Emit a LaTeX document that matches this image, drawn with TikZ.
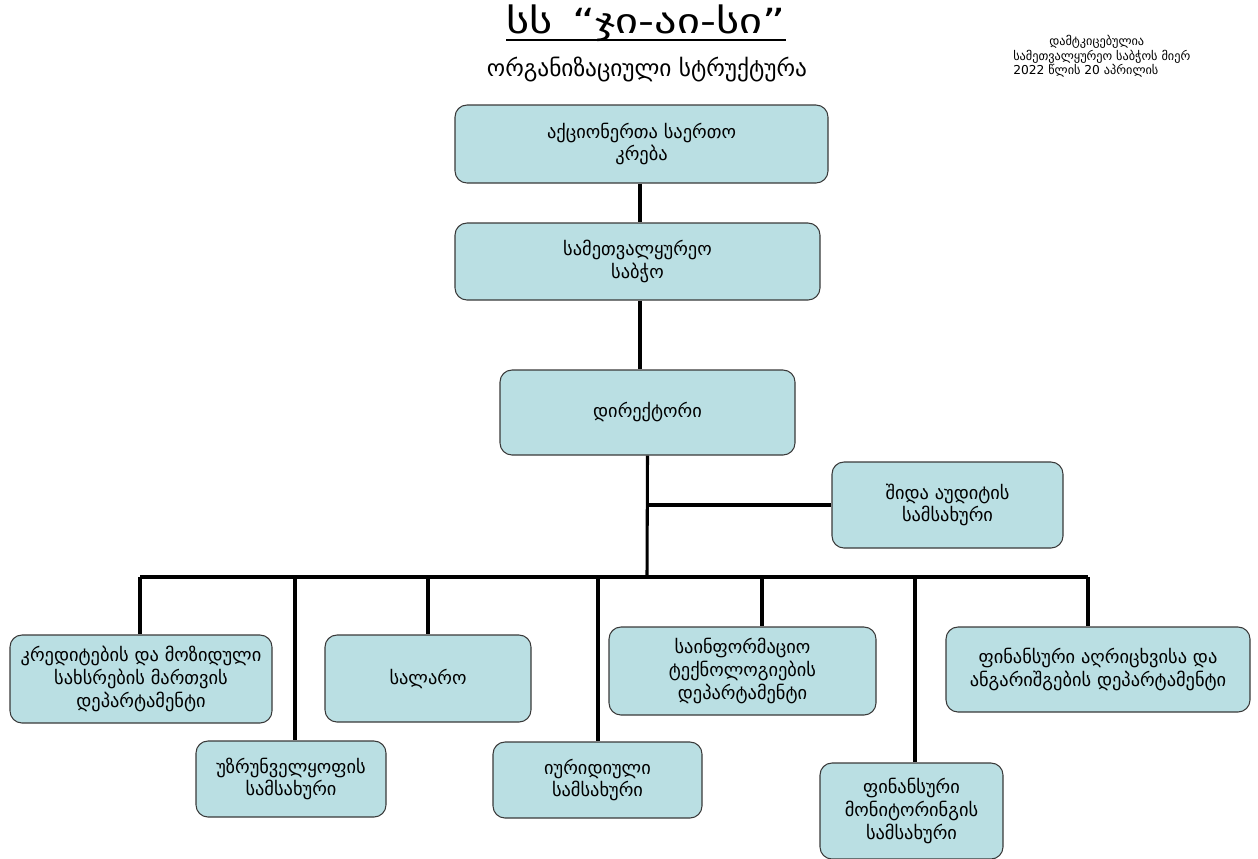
\documentclass[tikz,border=0pt]{standalone}
\usepackage{fontspec}
\setmainfont{DejaVu Sans}
\newfontfamily\titlefont[FakeStretch=1.28]{DejaVu Sans}
\usetikzlibrary{positioning}
\definecolor{boxfill}{HTML}{BADFE3}
\definecolor{boxline}{HTML}{3A3A3A}
\tikzset{
  orgbox/.style={draw=boxline, line width=0.8pt, fill=boxfill, rounded corners=9pt,
    align=center, font=\fontsize{13.8}{17}\selectfont, inner sep=1pt},
  link/.style={line width=2.3pt, black},
}
\begin{document}
\begin{tikzpicture}[x=0.75pt,y=-0.75pt]
\useasboundingbox (0,0) rectangle (1258,858);
% titles
\node[inner sep=0pt, anchor=base, font=\titlefont\fontsize{26}{30}\selectfont] (title) at (646,33) {სს \,“ჯი-აი-სი”};
\draw[line width=1.6pt] ([yshift=-5.3pt]title.base west) -- ([yshift=-5.3pt]title.base east);
\node (sub) at (647,69) {\fontsize{17.5}{20}\selectfont ორგანიზაციული სტრუქტურა};
\node[align=left, font=\fontsize{9.2}{11}\selectfont, anchor=north west, inner sep=0pt] (appr) at (1013,35)
  {\hspace*{27pt}დამტკიცებულია\\სამეთვალყურეო საბჭოს მიერ\\2022 წლის 20 აპრილის};
% boxes
\node[orgbox, minimum width=373*0.75pt, minimum height=78*0.75pt] (gm) at (641.5,144) {აქციონერთა საერთო\\კრება};
\node[orgbox, minimum width=365*0.75pt, minimum height=77*0.75pt] (sb) at (637.5,261.5) {სამეთვალყურეო\\საბჭო};
\node[orgbox, minimum width=295*0.75pt, minimum height=85*0.75pt] (dir) at (647.5,412.5) {დირექტორი};
\node[orgbox, minimum width=231*0.75pt, minimum height=86*0.75pt] (aud) at (947.5,505) {შიდა აუდიტის\\სამსახური};
\node[orgbox, minimum width=262*0.75pt, minimum height=88*0.75pt] (b1) at (141,679) {კრედიტების და მოზიდული\\სახსრების მართვის\\დეპარტამენტი};
\node[orgbox, minimum width=190*0.75pt, minimum height=76*0.75pt] (b2) at (291,779) {უზრუნველყოფის\\სამსახური};
\node[orgbox, minimum width=206*0.75pt, minimum height=87*0.75pt] (b3) at (428,678.5) {სალარო};
\node[orgbox, minimum width=209*0.75pt, minimum height=76*0.75pt] (b4) at (597.5,780) {იურიდიული\\სამსახური};
\node[orgbox, minimum width=267*0.75pt, minimum height=88*0.75pt] (b5) at (742.5,671) {საინფორმაციო\\ტექნოლოგიების\\დეპარტამენტი};
\node[orgbox, minimum width=183*0.75pt, minimum height=96*0.75pt] (b6) at (911.5,811) {ფინანსური\\მონიტორინგის\\სამსახური};
\node[orgbox, minimum width=304*0.75pt, minimum height=85*0.75pt] (b7) at (1098,669.5) {ფინანსური აღრიცხვისა და\\ანგარიშგების დეპარტამენტი};
% junctions
\coordinate (jaud) at (647,505);
\coordinate (jbus) at (647,577);
\coordinate (busL) at (140,577);
\coordinate (busR) at (1088,577);
% connectors
\draw[link] (gm.south -| 640,0) -- (sb.north -| 640,0);
\draw[link] (sb.south -| 640,0) -- (dir.north -| 640,0);
\draw[link] (dir.south) -- (jbus);
\draw[link] (jaud) -- (aud.west);
\draw[link] (busL) -- (busR);
\draw[link] (busL) -- (b1.north -| busL);
\draw[link] (295,577) -- (b2.north -| 295,0);
\draw[link] (428,577) -- (b3.north);
\draw[link] (598,577) -- (b4.north -| 598,0);
\draw[link] (762,577) -- (b5.north -| 762,0);
\draw[link] (915,577) -- (b6.north -| 915,0);
\draw[link] (busR) -- (b7.north -| busR);
\end{tikzpicture}
\end{document}
